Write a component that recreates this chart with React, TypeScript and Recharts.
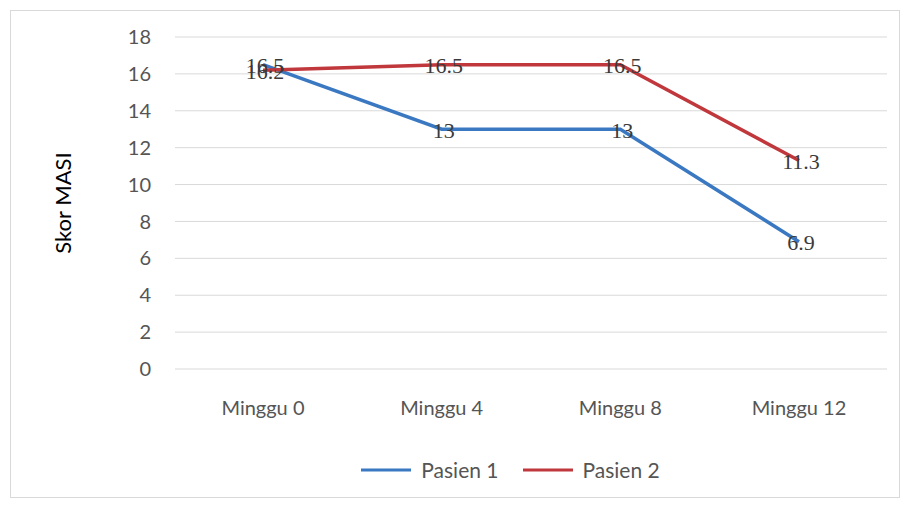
import React from 'react';
import { LineChart, Line, XAxis, YAxis, CartesianGrid, Legend, LabelList } from 'recharts';

const categories = ['Minggu 0', 'Minggu 4', 'Minggu 8', 'Minggu 12'];
const pasien1 = [16.5, 13, 13, 6.9];
const pasien2 = [16.2, 16.5, 16.5, 11.3];
const yTicks = [0, 2, 4, 6, 8, 10, 12, 14, 16, 18];

const data = categories.map((c, i) => ({ name: c, p1: pasien1[i], p2: pasien2[i] }));

const seriesInfo = [
  { key: 'p1', name: 'Pasien 1', color: '#3b78c2' },
  { key: 'p2', name: 'Pasien 2', color: '#c0373c' },
];

const FONT = "Lato, 'Open Sans', sans-serif";

const CenterLabel = (props: any) => {
  const { x, y, value } = props;
  return (
    <text x={x + 2} y={y + 1} textAnchor="middle" dominantBaseline="central"
      fontFamily="'Liberation Serif', serif" fontSize={22} fill="#3a3a3a">
      {value}
    </text>
  );
};

const CustomLegend = () => (
  <div style={{ display: 'flex', justifyContent: 'center', alignItems: 'center', fontFamily: FONT, fontSize: 21, color: '#555', paddingLeft: 134 }}>
    {seriesInfo.map((s) => (
      <div key={s.key} style={{ display: 'flex', alignItems: 'center', margin: '0 12px' }}>
        <svg width={50} height={6} style={{ marginRight: 10 }}>
          <line x1={0} y1={3} x2={50} y2={3} stroke={s.color} strokeWidth={3} />
        </svg>
        <span>{s.name}</span>
      </div>
    ))}
  </div>
);

export default function App() {
  return (
    <div style={{ position: 'absolute', left: 0, top: 0, width: 906, height: 508, background: '#fff' }}>
      <div style={{ position: 'absolute', left: 10, top: 10, width: 888, height: 486, border: '1px solid #d9d9d9' }} />
      <LineChart width={906} height={508} data={data} margin={{ top: 37, right: 19, left: 0, bottom: 34 }}>
        <CartesianGrid vertical={false} stroke="#d9d9d9" strokeWidth={1} />
        <XAxis dataKey="name" axisLine={false} tickLine={false} padding={{ left: 88, right: 88 }}
          tickMargin={26} height={80}
          tick={{ fontFamily: FONT, fontSize: 20, fill: '#555' }} />
        <YAxis domain={[0, 18]} ticks={yTicks} width={175} axisLine={false} tickLine={false} tickMargin={18}
          interval={0}
          tick={{ fontFamily: FONT, fontSize: 20, fill: '#555' }}
          label={{ value: 'Skor MASI', angle: -90, position: 'insideLeft', offset: 63, style: { textAnchor: 'middle', fontFamily: FONT, fontSize: 22, fill: '#000' } }} />
        <Legend verticalAlign="bottom" content={<CustomLegend />} wrapperStyle={{ bottom: 26 }} />
        {seriesInfo.map((s) => (
          <Line key={s.key} type="linear" dataKey={s.key} name={s.name} stroke={s.color} strokeWidth={3.5}
            dot={false} activeDot={false} isAnimationActive={false}>
            <LabelList dataKey={s.key} content={<CenterLabel />} />
          </Line>
        ))}
      </LineChart>
    </div>
  );
}
